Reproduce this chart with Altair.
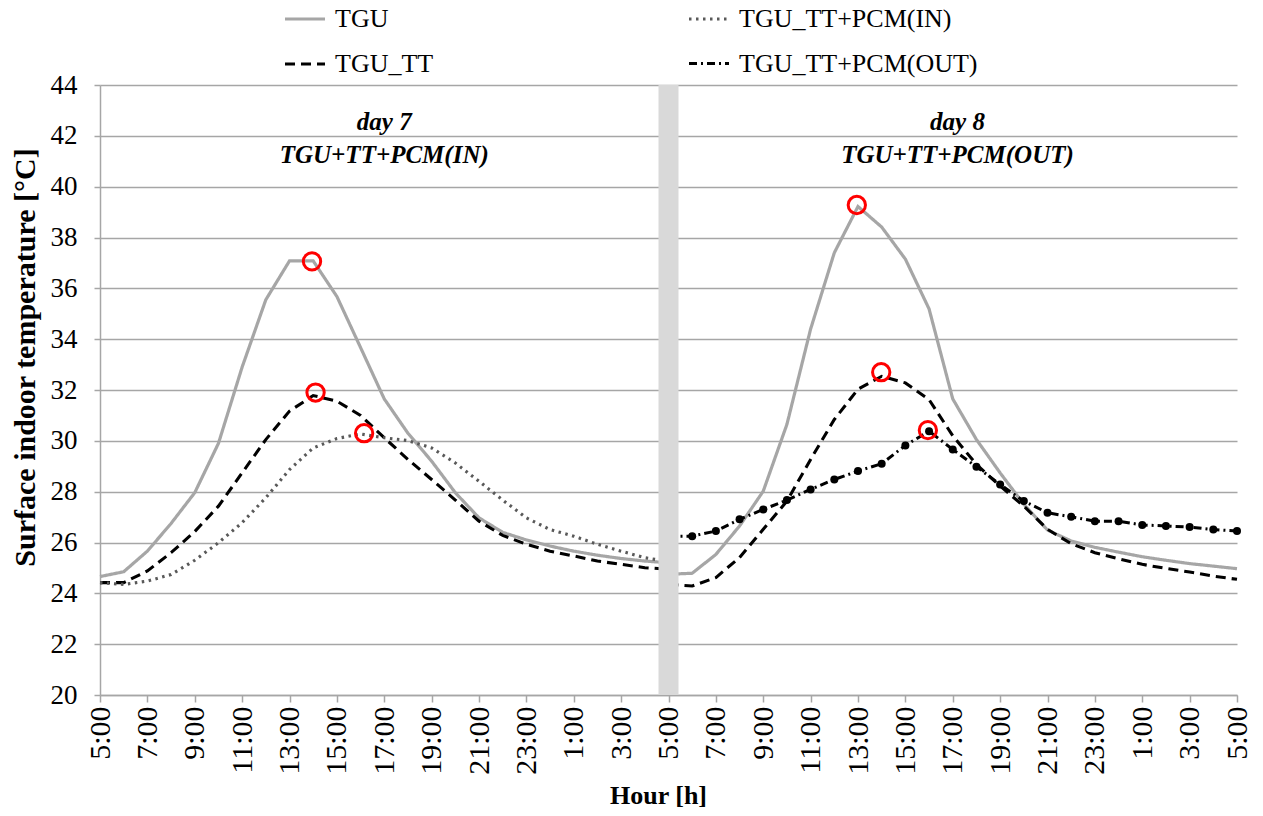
import json
import altair as alt
import pandas as pd

# ---------------- data ----------------
tick_labels = ["5:00", "7:00", "9:00", "11:00", "13:00", "15:00", "17:00", "19:00", "21:00", "23:00",
               "1:00", "3:00", "5:00", "7:00", "9:00", "11:00", "13:00", "15:00", "17:00", "19:00",
               "21:00", "23:00", "1:00", "3:00", "5:00"]
y_ticks = [20, 22, 24, 26, 28, 30, 32, 34, 36, 38, 40, 42, 44]

hours_day7 = list(range(0, 25))   # hour index from 5:00 of day 7
hours_day8 = list(range(24, 49))  # hour index from 5:00 of day 8

tgu_day7 = [24.66, 24.85, 25.66, 26.75, 27.96, 29.9, 32.9, 35.55, 37.08, 37.08, 35.68, 33.67, 31.65,
            30.3, 29.2, 27.96, 26.97, 26.4, 26.1, 25.86, 25.66, 25.5, 25.37, 25.27, 25.2]
tt_day7 = [24.42, 24.42, 24.88, 25.6, 26.43, 27.43, 28.74, 30.05, 31.17, 31.78, 31.56, 31.0, 30.12,
           29.27, 28.48, 27.67, 26.84, 26.28, 25.93, 25.66, 25.47, 25.27, 25.14, 25.01, 24.95]
pcm_in_day7 = [24.42, 24.35, 24.48, 24.74, 25.3, 25.99, 26.78, 27.76, 28.87, 29.72, 30.09, 30.27, 30.12,
               30.01, 29.72, 29.13, 28.41, 27.67, 26.97, 26.51, 26.25, 25.93, 25.66, 25.4, 25.25]

tgu_day8 = [24.75, 24.79, 25.53, 26.65, 28.02, 30.65, 34.4, 37.4, 39.22, 38.41, 37.15, 35.19, 31.65,
            30.05, 28.74, 27.5, 26.49, 26.06, 25.81, 25.62, 25.44, 25.3, 25.17, 25.07, 24.97]
tt_day8 = [24.35, 24.29, 24.62, 25.41, 26.52, 27.63, 29.27, 30.84, 32.03, 32.54, 32.28, 31.62, 30.2,
           29.07, 28.22, 27.43, 26.52, 25.95, 25.6, 25.36, 25.14, 24.98, 24.84, 24.68, 24.55]
pcm_out_day8 = [26.25, 26.25, 26.45, 26.91, 27.3, 27.67, 28.09, 28.48, 28.81, 29.1, 29.82, 30.38, 29.66,
                28.98, 28.28, 27.63, 27.17, 27.01, 26.84, 26.84, 26.69, 26.65, 26.61, 26.51, 26.45]

series_names = ["TGU", "TGU_TT+PCM(IN)", "TGU_TT", "TGU_TT+PCM(OUT)"]
series_colors = ["#a6a6a6", "#595959", "#000000", "#000000"]
series_dashes = [[1, 0], [2.5, 4.5], [10, 6], [8, 4, 2, 4]]
series_widths = [3.2, 3, 3.2, 2.8]

peak_hours = [8.95, 9.1, 11.15, 31.95, 32.98, 34.95]
peak_values = [37.06, 31.9, 30.3, 39.28, 32.7, 30.42]

gap_hour = [24]

note_texts = ["day 7", "TGU+TT+PCM(IN)", "day 8", "TGU+TT+PCM(OUT)"]
note_hours = [12, 12, 36.2, 36.2]
note_values = [42.55, 41.25, 42.55, 41.25]

# ---------------- tables ----------------
rows = []
for day, hrs, name, vals in [
    ("day7", hours_day7, "TGU", tgu_day7),
    ("day7", hours_day7, "TGU_TT", tt_day7),
    ("day7", hours_day7, "TGU_TT+PCM(IN)", pcm_in_day7),
    ("day8", hours_day8, "TGU", tgu_day8),
    ("day8", hours_day8, "TGU_TT", tt_day8),
    ("day8", hours_day8, "TGU_TT+PCM(OUT)", pcm_out_day8),
]:
    for h, v in zip(hrs, vals):
        rows.append({"day": day, "series": name, "hour": h, "temp": v})
df = pd.DataFrame(rows)
df_out = df[df["series"] == "TGU_TT+PCM(OUT)"]
df_peaks = pd.DataFrame({"hour": peak_hours, "temp": peak_values})
df_gap = pd.DataFrame({"hour": gap_hour, "lo": [y_ticks[0]] * len(gap_hour), "hi": [y_ticks[-1]] * len(gap_hour)})
df_notes = pd.DataFrame({"hour": note_hours, "temp": note_values, "text": note_texts})

FONT = "Liberation Serif"
FONT_REG = "'Times New Roman', 'Liberation Serif', Tinos, 'Nimbus Roman', 'DejaVu Serif', serif"
AX_GRAY = "#a6a6a6"

x_scale = alt.Scale(domain=[0, 48], nice=False, zero=False)
y_scale = alt.Scale(domain=[20, 44], nice=False, zero=False)

x_axis = alt.Axis(
    values=list(range(0, 49, 2)),
    labelExpr=json.dumps(tick_labels) + "[round(datum.value / 2)]",
    labelAngle=270, labelAlign="right", labelBaseline="middle",
    labelFont=FONT_REG, labelFontSize=30, labelColor="#000000", labelPadding=4,
    tickColor=AX_GRAY, tickSize=7, tickWidth=1.5,
    domainColor=AX_GRAY, domainWidth=1.5, grid=False,
    title="Hour [h]", titleFont=FONT, titleFontSize=26, titleFontWeight="bold", titleColor="#000000",
    titleX=558, titleY=100, titleBaseline="middle",
)
y_axis = alt.Axis(
    values=y_ticks,
    labelFont=FONT_REG, labelFontSize=27, labelColor="#000000", labelPadding=17,
    tickColor=AX_GRAY, tickSize=6, tickWidth=1.5,
    domainColor=AX_GRAY, domainWidth=1.5,
    grid=True, gridColor=AX_GRAY, gridWidth=1.5,
    title="Surface indoor temperature [°C]", titleFont=FONT, titleFontSize=30, titleFontWeight="bold",
    titleColor="#000000", titleAngle=270, titleX=-75, titleY=272, titleBaseline="middle",
)

X = alt.X("hour:Q", scale=x_scale, axis=x_axis)
Y = alt.Y("temp:Q", scale=y_scale, axis=y_axis)

legend = alt.Legend(
    title=None, orient="none", legendX=183, legendY=-88, columns=2, direction="horizontal",
    symbolType="stroke", symbolSize=1600, symbolStrokeWidth=3,
    labelFont=FONT_REG, labelFontSize=26, labelColor="#000000", labelOffset=8, labelLimit=400,
    columnPadding=248, rowPadding=10, padding=0,
)

lines = alt.Chart(df).mark_line().encode(
    x=X, y=Y,
    color=alt.Color("series:N", scale=alt.Scale(domain=series_names, range=series_colors), legend=legend),
    strokeDash=alt.StrokeDash("series:N", scale=alt.Scale(domain=series_names, range=series_dashes), legend=legend),
    strokeWidth=alt.StrokeWidth("series:N", scale=alt.Scale(domain=series_names, range=series_widths), legend=None),
    detail="day:N",
)

markers = alt.Chart(df_out).mark_circle(color="#000000", size=64, opacity=1).encode(x=X, y=Y)

gap = alt.Chart(df_gap).mark_rule(color="#d9d9d9", strokeWidth=20).encode(
    x=X, y=alt.Y("lo:Q", scale=y_scale, axis=y_axis), y2="hi:Q"
)

peaks = alt.Chart(df_peaks).mark_point(shape="circle", filled=False, color="#ff0000", size=300,
                                       strokeWidth=3, opacity=1).encode(x=X, y=Y)

notes = alt.Chart(df_notes).mark_text(font=FONT, fontSize=25, fontWeight="bold", fontStyle="italic",
                                      color="#000000").encode(x=X, y=Y, text="text:N")

chart = alt.layer(lines, markers, gap, peaks, notes).properties(
    width=1137, height=610,
    padding={"left": 100, "top": 85, "right": 26, "bottom": 121},
    autosize=alt.AutoSizeParams(type="none"),
    background="#ffffff",
).configure_view(strokeWidth=0).configure_axis(
    labelFont=FONT_REG, titleFont=FONT
).configure_legend(labelFont=FONT_REG)

chart.save("out.html", embed_options={"renderer": "svg", "actions": False})
